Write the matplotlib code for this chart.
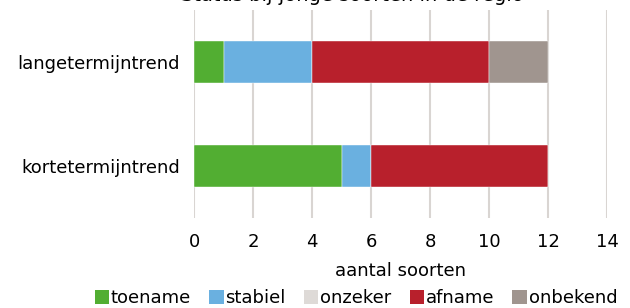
import matplotlib
matplotlib.use("Agg")
import matplotlib.pyplot as plt
from matplotlib.patches import Patch

plt.rcParams["font.family"] = ["DejaVu Sans"]

categories = ["kortetermijntrend", "langetermijntrend"]
series = ["toename", "stabiel", "onzeker", "afname", "onbekend"]
colors = ["#52ae32", "#6ab0e0", "#dedad7", "#b8202c", "#a0958f"]
values = {
    "toename": [5, 1],
    "stabiel": [1, 3],
    "onzeker": [0, 0],
    "afname": [6, 6],
    "onbekend": [0, 2],
}
xticks = [0, 2, 4, 6, 8, 10, 12, 14]

fig = plt.figure(figsize=(6.3, 3.08), dpi=100)
ax = fig.add_axes([194 / 630, 1 - 218 / 308, 413 / 630, 208 / 308])

left = [0, 0]
for name, col in zip(series, colors):
    vals = values[name]
    ax.barh(range(len(categories)), vals, left=left, height=0.4,
            color=col, edgecolor="#ffffff", linewidth=0.3, zorder=3)
    left = [a + b for a, b in zip(left, vals)]

ax.set_xlim(0, 14)
ax.set_ylim(-0.5, 1.5)
ax.set_xticks(xticks)
ax.set_yticks(range(len(categories)))
ax.set_yticklabels(categories)
ax.tick_params(axis="both", length=0, labelsize=13, colors="#000000")
ax.tick_params(axis="x", pad=11)
ax.tick_params(axis="y", pad=10)
ax.grid(axis="x", color="#d9d5d2", linewidth=1.5, zorder=0)
for s in ax.spines.values():
    s.set_visible(False)
ax.set_xlabel("aantal soorten", fontsize=13, labelpad=8)

# title is clipped at the top edge, as in the source image
fig.text(0.56, 0.997, "Status bij jonge soorten in de regio", ha="center",
         va="baseline", fontsize=14)

handles = [Patch(facecolor=c, edgecolor="none") for c in colors]
fig.legend(handles, series, loc="lower center", bbox_to_anchor=(0.565, -0.05),
           ncol=5, frameon=False, fontsize=13, handlelength=0.8,
           handleheight=0.8, handletextpad=0.1, columnspacing=1.0)

fig.savefig("out.png", dpi=100)
